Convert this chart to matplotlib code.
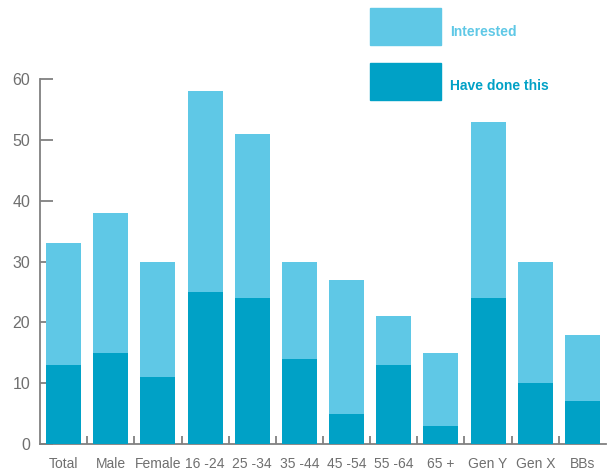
import matplotlib.pyplot as plt
from matplotlib.patches import Rectangle
import numpy as np

categories = ['Total', 'Male', 'Female', '16 -24', '25 -34', '35 -44', '45 -54', '55 -64', '65 +', 'Gen Y', 'Gen X', 'BBs']
have_done = [13, 15, 11, 25, 24, 14, 5, 13, 3, 24, 10, 7]
interested = [20, 23, 19, 33, 27, 16, 22, 8, 12, 29, 20, 11]

light = '#5fc8e6'
dark = '#00a1c6'
grey = '#808080'

plt.rcParams['font.family'] = ['Liberation Sans', 'DejaVu Sans']

fig = plt.figure(figsize=(6.13, 4.72), dpi=100)
ax = fig.add_axes([40 / 613, 28 / 472, 566 / 613, 365 / 472])

x = np.arange(len(categories))
ax.bar(x, have_done, width=0.74, color=dark, zorder=3)
ax.bar(x, interested, width=0.74, bottom=have_done, color=light, zorder=3)

ax.set_xlim(-0.5, len(categories) - 0.5)
ax.set_ylim(0, 60)
ax.set_yticks(range(0, 61, 10))
ax.set_xticks(x)
ax.set_xticklabels(categories)
ax.set_xticks(np.arange(0.5, len(categories) - 0.5, 1), minor=True)

for s in ['top', 'right']:
    ax.spines[s].set_visible(False)
for s in ['left', 'bottom']:
    ax.spines[s].set_color(grey)
    ax.spines[s].set_linewidth(1.3)

ax.tick_params(axis='y', direction='in', length=9, width=1.3, color=grey,
               labelcolor='#6f6f6f', labelsize=11.5, pad=7)
ax.tick_params(axis='x', which='major', length=0, labelcolor='#6f6f6f', labelsize=10, pad=9)
ax.tick_params(axis='x', which='minor', direction='in', length=6, width=1.3, color=grey)

# legend boxes drawn by hand at the top right
fig.patches.append(Rectangle((370 / 613, 1 - 45 / 472), 71 / 613, 37 / 472,
                             transform=fig.transFigure, color=light, figure=fig))
fig.patches.append(Rectangle((370 / 613, 1 - 100 / 472), 71 / 613, 37 / 472,
                             transform=fig.transFigure, color=dark, figure=fig))
fig.text(450 / 613, 1 - 32 / 472, 'Interested', color=light, fontsize=10,
         fontweight='bold', va='center')
fig.text(450 / 613, 1 - 86 / 472, 'Have done this', color=dark, fontsize=10,
         fontweight='bold', va='center')

fig.savefig('out.png', dpi=100)
